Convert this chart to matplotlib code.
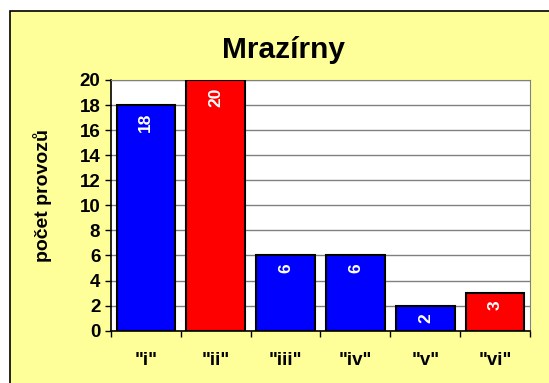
import matplotlib.pyplot as plt
from matplotlib.patches import Rectangle

# Data
categories = ['"i"', '"ii"', '"iii"', '"iv"', '"v"', '"vi"']
counts = [18, 20, 6, 6, 2, 3]
colors = ["#0000ff", "#ff0000", "#0000ff", "#0000ff", "#0000ff", "#ff0000"]
y_ticks = [0, 2, 4, 6, 8, 10, 12, 14, 16, 18, 20]

plt.rcParams.update({
    "font.family": ["Liberation Sans", "DejaVu Sans"],
    "font.weight": "bold",
})

W, H = 549, 383
fig = plt.figure(figsize=(W / 100, H / 100), dpi=100)
fig.patch.set_facecolor("white")

# Yellow chart area with black frame (runs off right/bottom edge)
fig.patches.append(Rectangle((10 / W, -0.05), 1.0, 1.05 - 11 / H, transform=fig.transFigure,
                             facecolor="#ffff99", edgecolor="black", linewidth=1.2,
                             zorder=-10))

left, right, top, bottom = 110.7, 530.3, 80, 330.7
ax = fig.add_axes([left / W, 1 - bottom / H, (right - left) / W, (bottom - top) / H])
ax.set_facecolor("white")

x = range(len(categories))
bars = ax.bar(x, counts, width=0.833, color=colors, edgecolor="black",
              linewidth=1.5, zorder=3)

for i, v in enumerate(counts):
    ax.text(i, v - 0.6, str(v), rotation=90, ha="center", va="top",
            color="white", fontsize=12.5, fontweight="bold", zorder=4)

ax.set_xlim(-0.5, len(categories) - 0.5)
ax.set_ylim(0, 20)
ax.set_yticks(y_ticks)
ax.set_yticklabels([str(t) for t in y_ticks], fontsize=13.5, fontweight="bold")
ax.yaxis.grid(True, color="#808080", linewidth=1.0, zorder=1)
ax.set_axisbelow(True)

# Category ticks sit on the boundaries, labels centred under bars
ax.set_xticks([i - 0.5 for i in range(len(categories) + 1)])
ax.set_xticklabels([])
ax.set_xticks(list(x), minor=True)
ax.set_xticklabels(categories, minor=True, fontsize=13.5, fontweight="bold")
ax.tick_params(axis="x", which="minor", length=0, pad=15)
ax.tick_params(axis="x", which="major", length=4.5, width=1, direction="out")
ax.tick_params(axis="y", length=4.5, width=1, direction="out", pad=3)

for side in ["top", "right"]:
    ax.spines[side].set_color("#808080")
for side in ["left", "bottom"]:
    ax.spines[side].set_color("black")
    ax.spines[side].set_linewidth(1.2)

# Axis title and chart title placed in figure pixels
fig.text(43 / W, 1 - 195 / H, "počet provozů", rotation=90, ha="center",
         va="center", fontsize=14, fontweight="bold")
fig.text(283.7 / W, 1 - 57.7 / H, "Mrazírny", ha="center", va="baseline",
         fontsize=21.5, fontweight="bold")

fig.savefig("out.png", dpi=100)
